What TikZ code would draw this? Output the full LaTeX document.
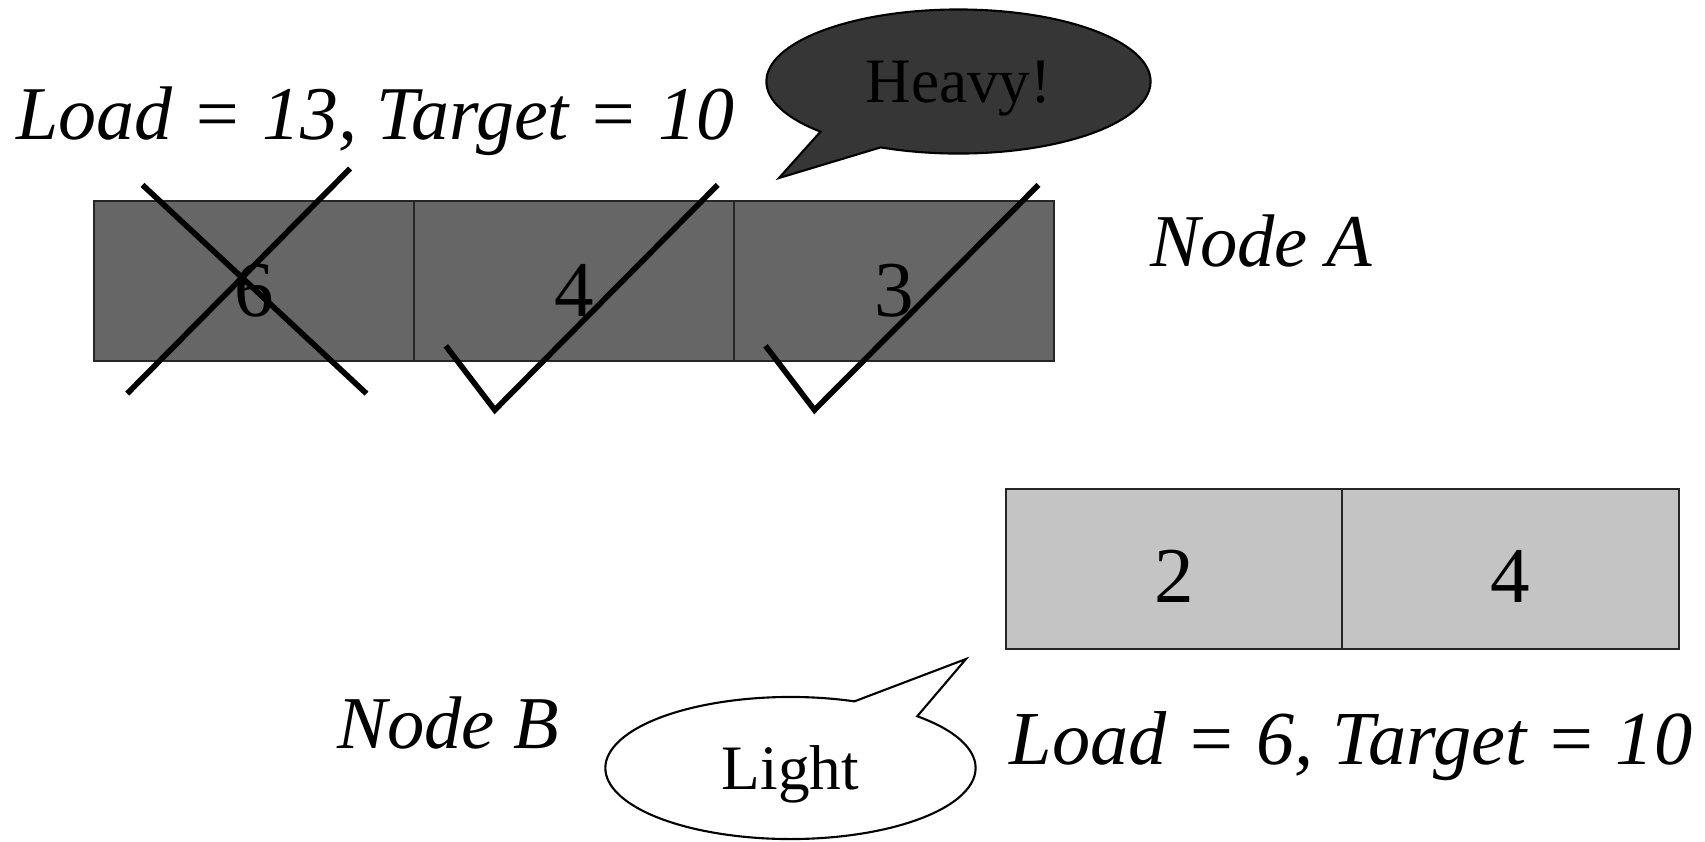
\documentclass[tikz,border=0pt]{standalone}
\usepackage{fontspec}
\setmainfont{Liberation Serif}
\usetikzlibrary{shapes.callouts}

\begin{document}
\begin{tikzpicture}[x=0.01cm,y=-0.01cm,
  hbox/.style={rectangle,draw=black!85,line width=0.6pt,fill=black!60,minimum width=3.2cm,minimum height=1.6cm,inner sep=0pt,outer sep=0pt,text height=20pt,text depth=0pt,font=\fontsize{22.5}{26}\selectfont},
  lbox/.style={rectangle,draw=black!85,line width=0.6pt,fill=black!23,minimum width=3.36cm,minimum height=1.6cm,inner sep=0pt,outer sep=0pt,text height=19pt,text depth=0pt,font=\fontsize{22.5}{26}\selectfont},
  lbl/.style={anchor=base west,inner sep=0pt,font=\fontsize{21.2}{25}\selectfont\itshape},
  bub/.style={ellipse callout,draw=black,line width=0.6pt,inner sep=0pt,text depth=0pt,font=\fontsize{18}{22}\selectfont},
  strike/.style={line width=1.6pt,black}]
  \useasboundingbox (0,0) rectangle (1705,841);
  % node A, three jobs
  \node[hbox] (a1) at (254.3,281) {6};
  \node[hbox] (a2) at (574,281) {4};
  \node[hbox] (a3) at (893.9,281) {3};
  \node[lbl,font=\fontsize{21.6}{25}\selectfont\itshape] (loada) at (16,139) {Load = 13, Target = 10};
  \node[lbl] (namea) at (1150,266) {Node A};
  % cross on the first job, ticks on the others
  \draw[strike] (142.5,184.9) -- (366.5,393.6);
  \draw[strike] (350.1,168.5) -- (127.2,393.6);
  \draw[strike] (445.8,345.8) -- (494.8,410) -- (717.7,184.9);
  \draw[strike] (765.5,345.8) -- (814.5,410) -- (1038.5,184.9);
  % node B, two jobs
  \node[lbox] (b1) at (1174.4,569) {2};
  \node[lbox] (b2) at (1510.5,569) {4};
  \node[lbl] (nameb) at (337,748) {Node B};
  \node[lbl,font=\fontsize{21.7}{25}\selectfont\itshape] (loadb) at (1009,764) {Load = 6, Target = 10};
  % speech bubbles
  \coordinate (htip) at (779,178);
  \coordinate (ltip) at (966,659);
  \node[bub,fill=black!79,minimum width=3.84cm,minimum height=1.44cm,
    callout absolute pointer=(htip),callout pointer arc=22] (heavy) at (958.5,81.5) {Heavy!};
  \node[bub,fill=white,minimum width=3.7cm,minimum height=1.42cm,
    callout absolute pointer=(ltip),callout pointer arc=23] (light) at (790.5,768) {Light};
\end{tikzpicture}
\end{document}
